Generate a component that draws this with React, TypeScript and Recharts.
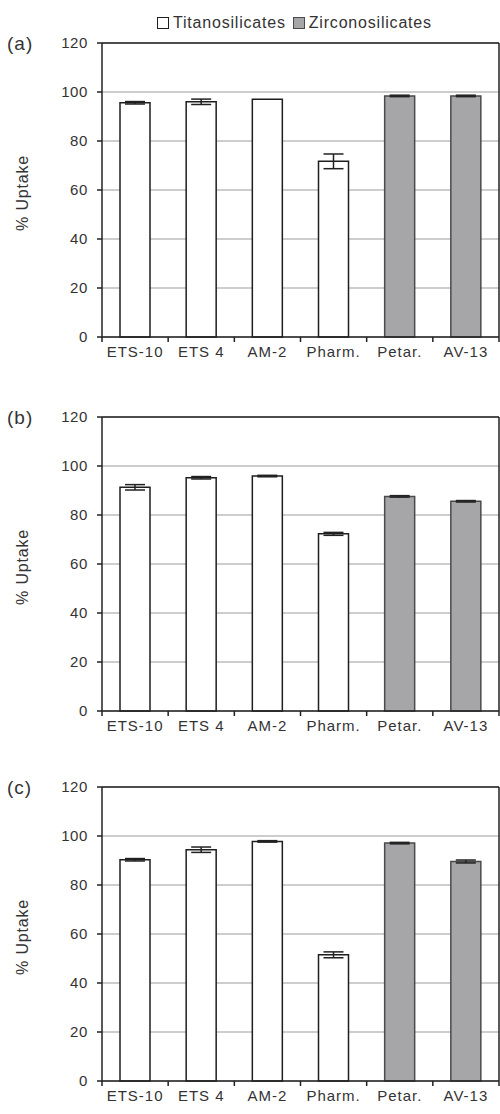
import React from 'react';
import { BarChart, Bar, XAxis, YAxis, CartesianGrid, ErrorBar, Cell, ReferenceLine } from 'recharts';

// sorbents on the x axis, and which family each one belongs to
const categories = ['ETS-10', 'ETS 4', 'AM-2', 'Pharm.', 'Petar.', 'AV-13'];
const families = [
  'Titanosilicates', 'Titanosilicates', 'Titanosilicates', 'Titanosilicates',
  'Zirconosilicates', 'Zirconosilicates',
];

// % uptake and error (±) per panel
const uptakeA = [95.6, 96.0, 97.0, 71.7, 98.4, 98.4];
const errA = [0.5, 1.1, 0, 3.0, 0.3, 0.3];
const uptakeB = [91.3, 95.2, 95.9, 72.3, 87.6, 85.6];
const errB = [1.1, 0.5, 0.3, 0.6, 0.3, 0.3];
const uptakeC = [90.3, 94.4, 97.8, 51.5, 97.1, 89.6];
const errC = [0.5, 1.1, 0.3, 1.2, 0.3, 0.6];

const yTicks = [0, 20, 40, 60, 80, 100, 120];
const legendItems = ['Titanosilicates', 'Zirconosilicates'];

const FILL: Record<string, string> = { Titanosilicates: '#ffffff', Zirconosilicates: '#a6a6a9' };
const STROKE: Record<string, string> = { Titanosilicates: '#1e1e1e', Zirconosilicates: '#4a4a4a' };
const INK = '#333';
const AXIS = '#222';

function CategoryTick(props: any) {
  const { x, y, payload, index, visibleTicksCount } = props;
  const half = payload.offset ?? 0;
  const axisY = y - 9;
  return (
    <g>
      <line x1={x - half} x2={x - half} y1={axisY} y2={axisY + 5} stroke={AXIS} strokeWidth={1.5} />
      {index === visibleTicksCount - 1 && (
        <line x1={x + half} x2={x + half} y1={axisY} y2={axisY + 5} stroke={AXIS} strokeWidth={1.5} />
      )}
      <text x={x} y={y} dy="0.71em" textAnchor="middle" fill={INK} fontSize={15} letterSpacing={1}>
        {payload.value}
      </text>
    </g>
  );
}

function UptakeLabel(props: any) {
  const vb = props.viewBox || { x: 0, y: 43, width: 102, height: 294 };
  const cx = vb.x + 22;
  const cy = vb.y + vb.height / 2 + 3;
  return (
    <text
      x={cx}
      y={cy}
      transform={`rotate(-90, ${cx}, ${cy})`}
      textAnchor="middle"
      dominantBaseline="central"
      fill={INK}
      fontSize={16}
      letterSpacing={0.8}
    >
      % Uptake
    </text>
  );
}

function Panel({ label, values, errors, top }: { label: string; values: number[]; errors: number[]; top: number }) {
  const data = categories.map((name, i) => ({ name, uptake: values[i], err: errors[i], family: families[i] }));
  return (
    <div style={{ position: 'absolute', left: 0, top, width: 500, height: 370 }}>
      <div style={{ position: 'absolute', left: 7, top: 33, fontSize: 19, letterSpacing: 1, color: INK }}>{label}</div>
      <BarChart width={500} height={370} data={data} margin={{ top: 43, right: 0, bottom: 3, left: 0 }} barSize={30}>
        <CartesianGrid vertical={false} stroke="#9c9c9c" strokeWidth={1.2} />
        <XAxis
          dataKey="name"
          height={30}
          interval={0}
          axisLine={{ stroke: AXIS, strokeWidth: 1.5 }}
          tickLine={false}
          tickSize={5}
          tickMargin={4}
          tick={<CategoryTick />}
        />
        <YAxis
          width={102}
          domain={[0, 120]}
          ticks={yTicks}
          interval={0}
          axisLine={{ stroke: AXIS, strokeWidth: 1.5 }}
          tickLine={{ stroke: AXIS, strokeWidth: 1.5 }}
          tickSize={5}
          tickMargin={9}
          tick={{ fill: INK, fontSize: 15, letterSpacing: 0.6 }}
          label={(p: any) => <UptakeLabel {...p} />}
        />
        <YAxis
          yAxisId="frame"
          orientation="right"
          width={1}
          domain={[0, 120]}
          tick={false}
          tickLine={false}
          axisLine={{ stroke: AXIS, strokeWidth: 1.5 }}
        />
        <ReferenceLine y={120} stroke={AXIS} strokeWidth={1.5} />
        <Bar dataKey="uptake" isAnimationActive={false} strokeWidth={1.5}>
          {data.map((d, i) => (
            <Cell key={i} fill={FILL[d.family]} stroke={STROKE[d.family]} />
          ))}
          <ErrorBar dataKey="err" width={10} stroke={AXIS} strokeWidth={1.5} direction="y" />
        </Bar>
      </BarChart>
    </div>
  );
}

export default function App() {
  return (
    <div
      style={{
        position: 'absolute',
        left: 0,
        top: 0,
        width: 500,
        height: 1114,
        background: '#fff',
        fontFamily: '"Liberation Sans", Arial, sans-serif',
      }}
    >
      <div
        style={{
          position: 'absolute',
          left: 157,
          top: 13,
          height: 20,
          display: 'flex',
          alignItems: 'center',
          fontSize: 16,
          letterSpacing: 0.8,
          color: INK,
          whiteSpace: 'nowrap',
        }}
      >
        {legendItems.map((name, i) => (
          <React.Fragment key={name}>
            <span
              style={{
                display: 'inline-block',
                width: 10,
                height: 10,
                border: `1px solid ${STROKE[name]}`,
                background: FILL[name],
                marginLeft: i === 0 ? 0 : 7,
                marginRight: 4,
              }}
            />
            <span>{name}</span>
          </React.Fragment>
        ))}
      </div>
      <Panel label="(a)" values={uptakeA} errors={errA} top={0} />
      <Panel label="(b)" values={uptakeB} errors={errB} top={374} />
      <Panel label="(c)" values={uptakeC} errors={errC} top={744} />
    </div>
  );
}
